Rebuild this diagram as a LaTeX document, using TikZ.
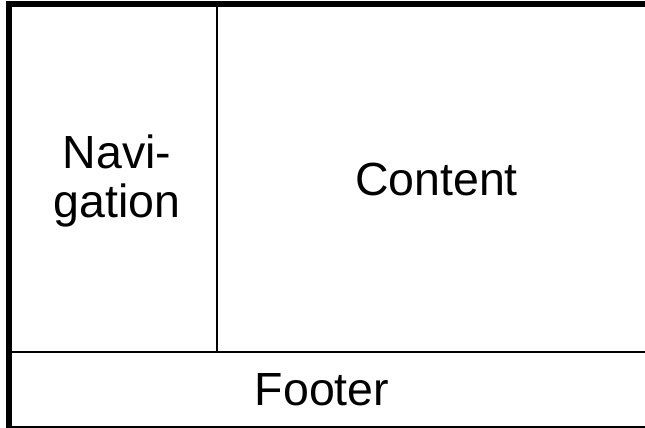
\documentclass[tikz,border=0pt]{standalone}
\usepackage{fontspec}
\setmainfont{Liberation Sans}
\usepackage{tikz}
\usetikzlibrary{positioning}
\tikzstyle{frame}=[draw,line width=3pt]
\tikzstyle{divider}=[draw,line width=1.3pt]
\tikzstyle{region}=[align=center,inner sep=0pt,font=\fontsize{23.25}{24.5}\selectfont]

\begin{document}
\begin{tikzpicture}[x=0.5pt,y=-0.5pt]
\useasboundingbox (0,0) rectangle (645,428);
% corners of the layout
\coordinate (tl) at (9,4.5);
\coordinate (br) at (652,429.5);
\coordinate (navtop) at (217,4.5);
\coordinate (navbot) at (217,352);
\coordinate (footl) at (9,352);
\coordinate (footr) at (652,352);
% the page
\draw [frame] (tl) rectangle (br);
\draw [divider] (navtop) -- (navbot);
\draw [divider] (footl) -- (footr);
% the regions
\node [region] (nav) at (117,181) {Navi-\\gation};
\node [region] (content) at (436.5,179.5) {Content};
\node [region] (footer) at (322,389.5) {Footer};
\end{tikzpicture}
\end{document}
